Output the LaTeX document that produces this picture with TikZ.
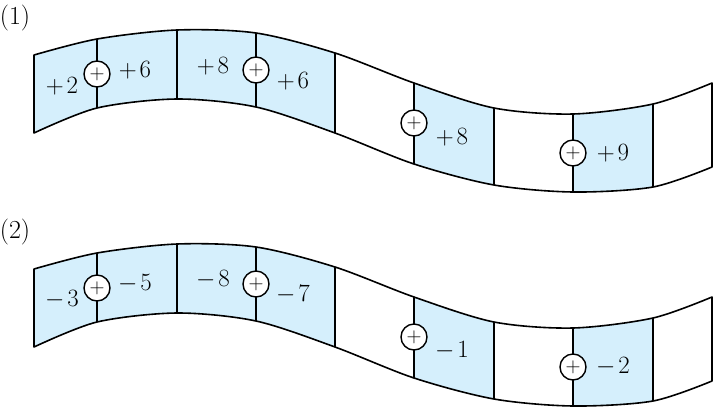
\documentclass[tikz,border=0pt]{standalone}
\usepackage{tikz}
\usetikzlibrary{positioning}
\definecolor{cellblue}{RGB}{213,239,252}

\begin{document}
\begin{tikzpicture}[x=1pt, y=-1pt, line width=1.6pt, font=\fontsize{26}{30}\selectfont,
    plus/.style={circle, draw, fill=white, line width=1.4pt, inner sep=0pt, minimum size=26pt, font=\fontsize{21}{24}\selectfont}]
    \useasboundingbox (0,0) rectangle (713,408);
    \foreach \dy/\tag/\va/\vb/\vc/\vd/\ve/\vf in {0/1/+\mkern2mu2/+\mkern2mu6/+\mkern2mu8/+\mkern2mu6/+\mkern2mu8/+\mkern2mu9,
                                                214/2/-\mkern2mu3/-\mkern2mu5/-\mkern2mu8/-\mkern2mu7/-\mkern2mu1/-\mkern2mu2} {
    \begin{scope}[shift={(0,\dy)}]
        % top and bottom edge of the ribbon
        \foreach \i/\x/\yt/\yb in {0/34/55/133, 1/97/39/108, 2/177/30/99, 3/256/33/107, 4/335/53/133,
                                   5/414/83/164, 6/494/108/185, 7/573/114/192, 8/653/104/187, 9/712/83/167} {
            \coordinate (t\i) at (\x,\yt);
            \coordinate (b\i) at (\x,\yb);
        }
        \begin{scope}
            \clip (0,0) rectangle (335,200) (414,0) rectangle (494,200) (573,0) rectangle (653,200);
            \fill [cellblue] plot [smooth] coordinates {(t0) (t1) (t2) (t3) (t4) (t5) (t6) (t7) (t8) (t9)}
                -- plot [smooth] coordinates {(b9) (b8) (b7) (b6) (b5) (b4) (b3) (b2) (b1) (b0)} -- cycle;
        \end{scope}
        \draw [line join=round] plot [smooth] coordinates {(t0) (t1) (t2) (t3) (t4) (t5) (t6) (t7) (t8) (t9)}
            -- plot [smooth] coordinates {(b9) (b8) (b7) (b6) (b5) (b4) (b3) (b2) (b1) (b0)} -- cycle;
        \foreach \i in {1,...,8}
            \draw (t\i) -- (b\i);

        \node [plus] (p1) at (97,74) {$+$};
        \node [plus] (p2) at (256,70) {$+$};
        \node [plus] (p3) at (414,123) {$+$};
        \node [plus] (p4) at (573,153) {$+$};

        \node (n1) at (62,86) {$\va$};
        \node (n2) at (135,70) {$\vb$};
        \node (n3) at (213,66) {$\vc$};
        \node (n4) at (293,81) {$\vd$};
        \node (n5) at (452,137) {$\ve$};
        \node (n6) at (613,153) {$\vf$};

        \node [anchor=west, inner sep=0pt] (tag) at (-1,18) {(\tag)};
    \end{scope}
    }
\end{tikzpicture}
\end{document}
